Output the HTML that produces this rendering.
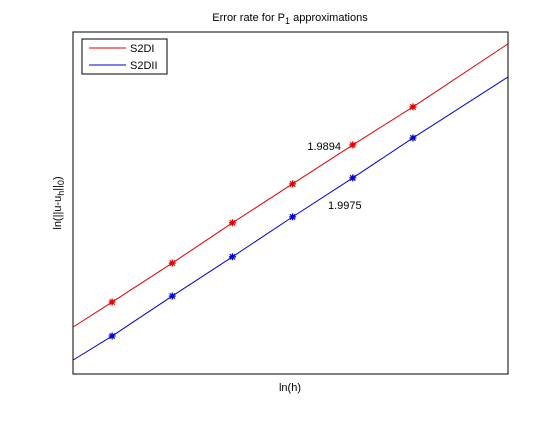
<!DOCTYPE html>
<html><head><meta charset="utf-8"><style>
body{margin:0;background:#fff;}
svg text{font-family:"Liberation Sans",sans-serif;font-size:11px;fill:#000;}
</style></head><body>
<svg width="560" height="420" id="c">
<rect width="560" height="420" fill="#fff"/>
<text x="290" y="21" text-anchor="middle">Error rate for P<tspan font-size="9" dy="3">1</tspan><tspan dy="-3"> approximations</tspan></text>
<rect x="73" y="32" width="435" height="342" fill="none" stroke="#000" stroke-width="1"/>
<g id="marks"></g>
<text x="341" y="150" text-anchor="end">1.9894</text>
<text x="328" y="209">1.9975</text>
<text x="290" y="391" text-anchor="middle">ln(h)</text>
<text transform="translate(61,203) rotate(-90)" text-anchor="middle">ln(||u-u<tspan font-size="9" dy="3">h</tspan><tspan dy="-3">||</tspan><tspan font-size="9" dy="3">0</tspan><tspan dy="-3">)</tspan></text>
<g>
<rect x="82" y="39" width="85" height="35" fill="#fff" stroke="#000"/>
<line x1="89" y1="48" x2="126" y2="48" stroke="#e00000"/>
<text x="130" y="52">S2DI</text>
<line x1="89" y1="65" x2="126" y2="65" stroke="#0000d0"/>
<text x="130" y="69">S2DII</text>
</g>
</svg>
<script>
const xs=[-0.65,0,1,2,3,4,5,6.58];
const redY=[1.42,2.18,3.36,4.58,5.76,6.94,8.09,10.0];
const blueY=[0.42,1.15,2.36,3.55,4.76,5.94,7.15,9.0];
const xDom=[-0.65,6.58], yDom=[0,10.36];
const X=v=>73+(v-xDom[0])/(xDom[1]-xDom[0])*435;
const Y=v=>374-(v-yDom[0])/(yDom[1]-yDom[0])*342;
const g=document.getElementById('marks');
const NS='http://www.w3.org/2000/svg';
function series(ys,col,name){
  const p=document.createElementNS(NS,'polyline');
  
  
  p.setAttribute('points',xs.map((x,i)=>X(x)+','+Y(ys[i])).join(' '));
  p.setAttribute('fill','none');p.setAttribute('stroke',col);
  g.appendChild(p);
  for(let i=1;i<xs.length-1;i++){
    const cx=X(xs[i]),cy=Y(ys[i]),r=3.5;
    const m=document.createElementNS(NS,'path');
    
    
    m.setAttribute('d',`M${cx-r},${cy}H${cx+r}M${cx},${cy-r}V${cy+r}M${cx-r*0.75},${cy-r*0.75}L${cx+r*0.75},${cy+r*0.75}M${cx-r*0.75},${cy+r*0.75}L${cx+r*0.75},${cy-r*0.75}`);
    m.setAttribute('stroke',col);m.setAttribute('stroke-width','1.3');
    g.appendChild(m);
  }
}
series(redY,'#e00000','s2di');
series(blueY,'#0000d0','s2dii');
</script>
</body></html>
